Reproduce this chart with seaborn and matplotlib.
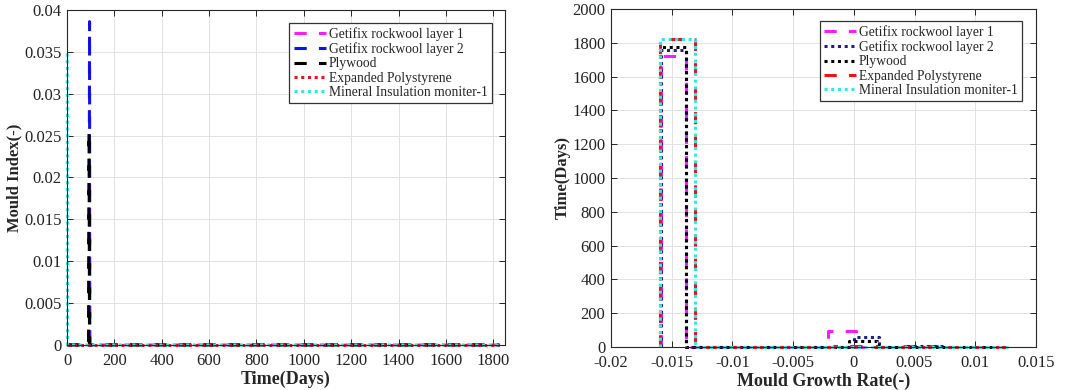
import matplotlib
matplotlib.use("Agg")
import matplotlib.pyplot as plt
import seaborn as sns

# ---------------- Mould index time series (left panel) ----------------
series_names = [
    "Getifix rockwool layer 1",
    "Getifix rockwool layer 2",
    "Plywood",
    "Expanded Polystyrene",
    "Mineral Insulation moniter-1",
]

days_layer1 = [1, 93, 95, 97, 1826]
mi_layer1 = [0.0, 0.0, 0.0200, 0.0, 0.0]

days_layer2 = [1, 93, 95, 96, 1826]
mi_layer2 = [0.0, 0.0, 0.0386, 0.0, 0.0]

days_plywood = [1, 91, 93, 95, 1826]
mi_plywood = [0.0, 0.0, 0.0255, 0.0, 0.0]

days_eps = [1, 1826]
mi_eps = [0.0, 0.0]

days_mineral = [1, 2, 1826]
mi_mineral = [0.0348, 0.0, 0.0]

left_xticks = [0, 200, 400, 600, 800, 1000, 1200, 1400, 1600, 1800]
left_yticks = [0, 0.005, 0.01, 0.015, 0.02, 0.025, 0.03, 0.035, 0.04]
left_yticklabels = ["0", "0.005", "0.01", "0.015", "0.02", "0.025", "0.03", "0.035", "0.04"]

# ---------------- Growth rate histograms (right panel) ----------------
edges_layer1 = [-0.0159, -0.0138, -0.00215, 0.00014, 0.0023, 0.0041, 0.0073]
days_in_bin_layer1 = [1724, 0, 96, 0, 0, 6]

edges_layer2 = [-0.0159, -0.0138, 0.0000, 0.0021, 0.0041, 0.0073]
days_in_bin_layer2 = [1758, 0, 61, 0, 7]

edges_plywood = [-0.0160, -0.0138, -0.0004, 0.0019, 0.0022, 0.0127]
days_in_bin_plywood = [1777, 0, 35, 12, 2]

edges_eps = [-0.0160, -0.0131, -0.0102, -0.0074, -0.0045, -0.0016,
             0.0013, 0.0041, 0.0070, 0.0099, 0.0127]
days_in_bin_eps = [1820, 0, 0, 0, 0, 3, 1, 2, 0, 0]

edges_mineral = [-0.0160, -0.0131, -0.0102, -0.0074, -0.0045, -0.0016,
                 0.0013, 0.0041, 0.0070, 0.0099, 0.0127]
days_in_bin_mineral = [1820, 0, 0, 0, 0, 2, 1, 1, 1, 1]

right_xticks = [-0.02, -0.015, -0.01, -0.005, 0, 0.005, 0.01, 0.015]
right_xticklabels = ["-0.02", "-0.015", "-0.01", "-0.005", "0", "0.005", "0.01", "0.015"]
right_yticks = [0, 200, 400, 600, 800, 1000, 1200, 1400, 1600, 1800, 2000]

# ---------------- Styling ----------------
sns.set_theme(style="whitegrid")
plt.rcParams.update({
    "font.family": ["Liberation Serif", "DejaVu Serif"],
    "axes.edgecolor": "#262626",
    "axes.linewidth": 0.8,
    "axes.facecolor": "white",
    "grid.color": "#e2e2e2",
    "grid.linewidth": 0.7,
    "xtick.direction": "in",
    "ytick.direction": "in",
    "xtick.top": True,
    "xtick.bottom": True,
    "ytick.left": True,
    "ytick.right": True,
    "xtick.major.size": 4,
    "ytick.major.size": 4,
    "xtick.major.width": 0.7,
    "ytick.major.width": 0.7,
    "xtick.color": "#262626",
    "ytick.color": "#262626",
    "xtick.labelcolor": "#222222",
    "ytick.labelcolor": "#222222",
    "xtick.labelsize": 12,
    "ytick.labelsize": 12,
    "xtick.major.pad": 6,
    "ytick.major.pad": 4,
})

MAGENTA = "#ff1aff"
BLUE = "#1010ee"
NAVY = "#1c1c9c"
BLACK = "#000000"
RED = "#e8141a"
CYAN = "#30e8e8"
LW = 2.2
DASH = (0, (4, 4))
DOT = (0, (1, 1.2))

fig = plt.figure(figsize=(10.92, 3.9), dpi=100)
ax1 = fig.add_axes([0.0614, 0.1154, 0.4011, 0.859])
ax2 = fig.add_axes([0.5595, 0.1103, 0.3892, 0.8667])

left_specs = [
    (days_layer1, mi_layer1, MAGENTA, DASH),
    (days_layer2, mi_layer2, BLUE, DASH),
    (days_plywood, mi_plywood, BLACK, DASH),
    (days_eps, mi_eps, RED, DOT),
    (days_mineral, mi_mineral, CYAN, DOT),
]
for name, (t, v, c, ls) in zip(series_names, left_specs):
    sns.lineplot(x=t, y=v, ax=ax1, sort=False, estimator=None, color=c,
                 linewidth=LW, linestyle=ls, label=name, clip_on=False)

ax1.set_xlim(0, 1850)
ax1.set_ylim(0, 0.04)
ax1.set_xticks(left_xticks, [str(x) for x in left_xticks])
ax1.set_yticks(left_yticks, left_yticklabels)
ax1.set_xlabel("Time(Days)", fontsize=13, fontweight="bold", labelpad=1)
ax1.set_ylabel("Mould Index(-)", fontsize=12, fontweight="bold", labelpad=1)


def step_path(edges, counts):
    xs = [edges[0]] + list(edges)
    ys = [0] + list(counts) + [0]
    return xs, ys


right_specs = [
    (edges_layer1, days_in_bin_layer1, MAGENTA, DASH),
    (edges_layer2, days_in_bin_layer2, NAVY, DOT),
    (edges_plywood, days_in_bin_plywood, BLACK, DOT),
    (edges_eps, days_in_bin_eps, RED, DASH),
    (edges_mineral, days_in_bin_mineral, CYAN, DOT),
]
for name, (e, n, c, ls) in zip(series_names, right_specs):
    xs, ys = step_path(e, n)
    sns.lineplot(x=xs, y=ys, ax=ax2, sort=False, estimator=None, color=c,
                 linewidth=LW, linestyle=ls, drawstyle="steps-post",
                 label=name, clip_on=False)

ax2.set_xlim(-0.02, 0.015)
ax2.set_ylim(0, 2000)
ax2.set_xticks(right_xticks, right_xticklabels)
ax2.set_yticks(right_yticks, [str(y) for y in right_yticks])
ax2.set_xlabel("Mould Growth Rate(-)", fontsize=13, fontweight="bold", labelpad=1)
ax2.set_ylabel("Time(Days)", fontsize=12, fontweight="bold", labelpad=1)

legend_kw = dict(
    loc="upper right", borderaxespad=0, fontsize=9.8, frameon=True,
    fancybox=False, framealpha=1, edgecolor="#333333",
    handlelength=2.4, handletextpad=0.2, labelspacing=0.1,
    borderpad=0.3,
)
for ax, anchor in ((ax1, (0.97, 0.961)), (ax2, (0.967, 0.9645))):
    for side in ("top", "right", "bottom", "left"):
        ax.spines[side].set_visible(True)
        ax.spines[side].set_color("#262626")
    ax.grid(True, color="#e2e2e2", linewidth=0.7)
    ax.set_axisbelow(True)
    leg = ax.legend(bbox_to_anchor=anchor, **legend_kw)
    leg.get_frame().set_linewidth(0.9)

fig.savefig("out.png", dpi=100)
